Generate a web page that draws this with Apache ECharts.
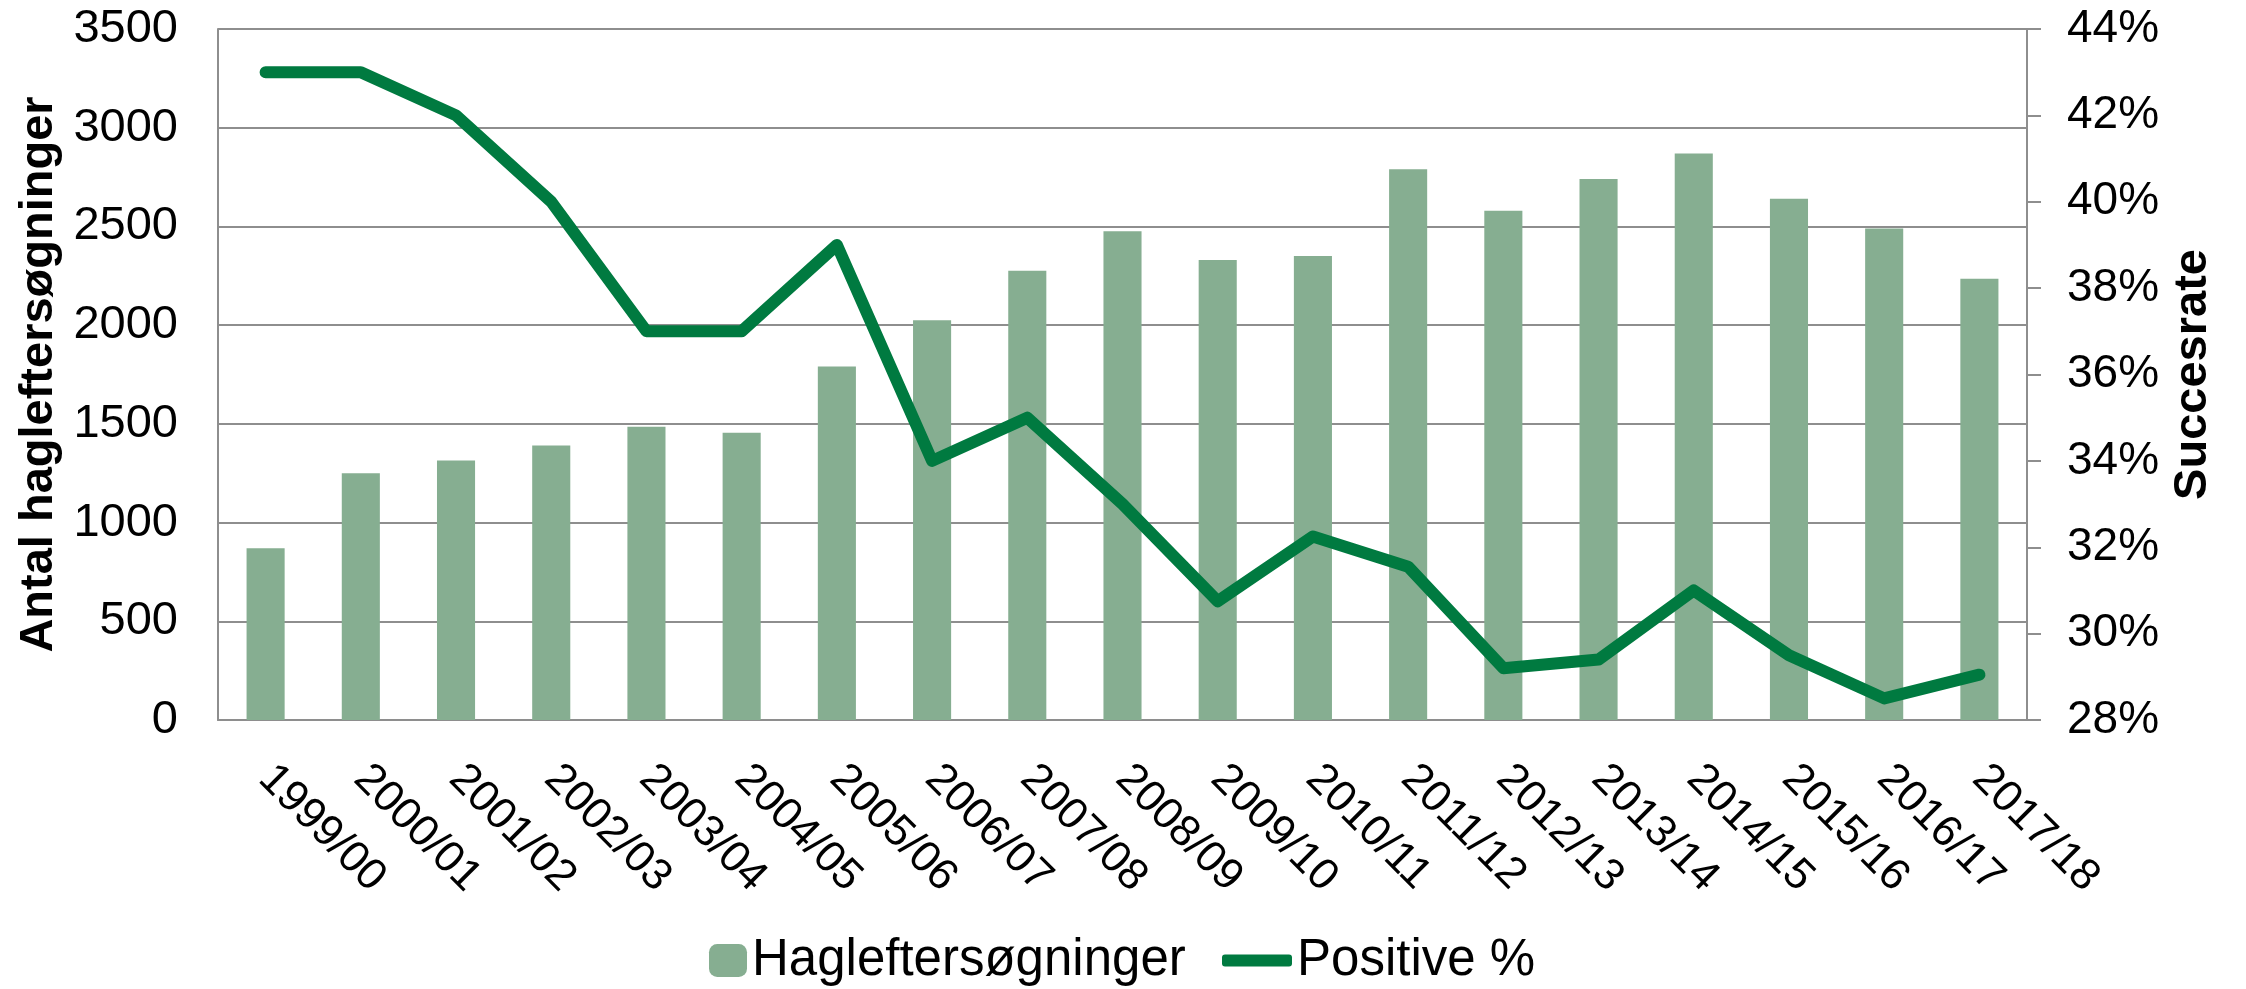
<!DOCTYPE html>
<html lang="da">
<head>
    <meta charset="UTF-8">
    <title>Hagleftersøgninger</title>
    <script src="https://cdn.jsdelivr.net/npm/echarts@6/dist/echarts.min.js"></script>
    <style>
        html, body { margin: 0; padding: 0; background: #fff; }
        #main { width: 2246px; height: 989px; }
    </style>
</head>
<body>
    <div id="main"></div>
<script type="text/javascript">
    // sæsoner
    var seasons = ['1999/00', '2000/01', '2001/02', '2002/03', '2003/04', '2004/05', '2005/06',
        '2006/07', '2007/08', '2008/09', '2009/10', '2010/11', '2011/12', '2012/13',
        '2013/14', '2014/15', '2015/16', '2016/17', '2017/18'];
    // antal hagleftersøgninger
    var searches = [870, 1250, 1315, 1390, 1485, 1455, 1790, 2025, 2275, 2475,
        2330, 2350, 2790, 2580, 2740, 2870, 2640, 2490, 2235];
    // positive i procent
    var positive = [43, 43, 42, 40, 37, 37, 39, 34, 35, 33,
        30.75, 32.25, 31.55, 29.2, 29.4, 31, 29.5, 28.5, 29.05];

    var barColor = '#86ae91';
    var lineColor = '#007a40';
    var gridColor = '#8e8e8e';
    var font = 'Liberation Sans, Arial, sans-serif';

    var myChart = echarts.init(document.getElementById('main'));

    var option = {
        backgroundColor: '#fff',
        textStyle: { fontFamily: font, color: '#000' },
        grid: { left: 218, right: 219, top: 29, bottom: 269, containLabel: false },
        legend: [
            {
                data: ['Hagleftersøgninger'],
                left: 709, top: 935, padding: 0,
                itemWidth: 38, itemHeight: 33,
                textStyle: { fontSize: 51, color: '#000', fontFamily: font }
            },
            {
                data: [{ name: 'Positive %', icon: 'roundRect' }],
                left: 1222, top: 935, padding: 0,
                itemWidth: 70, itemHeight: 12,
                textStyle: { fontSize: 51, color: '#000', fontFamily: font }
            }
        ],
        xAxis: {
            type: 'category',
            data: seasons,
            axisLine: { lineStyle: { color: gridColor, width: 2 } },
            axisTick: { show: false },
            axisLabel: { rotate: -45, fontSize: 44, margin: 52, color: '#000', interval: 0 }
        },
        yAxis: [
            {
                type: 'value',
                min: 0, max: 3500, interval: 500,
                name: 'Antal hagleftersøgninger',
                nameLocation: 'middle', nameRotate: 90, nameGap: 136,
                nameTextStyle: { fontSize: 47, fontWeight: 'bold', color: '#000' },
                axisLine: { show: true, lineStyle: { color: gridColor, width: 2 } },
                axisTick: { show: false },
                axisLabel: {
                    fontSize: 47, margin: 40, color: '#000',
                    formatter: function (v) { return String(v); }
                },
                splitLine: { lineStyle: { color: gridColor, width: 2 } }
            },
            {
                type: 'value',
                position: 'right',
                min: 28, max: 44, interval: 2,
                name: 'Succesrate',
                nameLocation: 'middle', nameRotate: 90, nameGap: 136,
                nameTextStyle: { fontSize: 47, fontWeight: 'bold', color: '#000' },
                axisLine: { show: true, lineStyle: { color: gridColor, width: 2 } },
                axisTick: { show: true, inside: false, length: 14, lineStyle: { color: gridColor, width: 2 } },
                axisLabel: {
                    fontSize: 46, margin: 40, color: '#000',
                    formatter: function (v) { return v + '%'; }
                },
                splitLine: { show: false }
            }
        ],
        series: [
            {
                name: 'Hagleftersøgninger',
                type: 'bar',
                yAxisIndex: 0,
                barWidth: '40%',
                itemStyle: { color: barColor },
                data: searches
            },
            {
                name: 'Positive %',
                type: 'line',
                yAxisIndex: 1,
                showSymbol: false,
                symbol: 'none',
                itemStyle: { color: lineColor },
                lineStyle: { color: lineColor, width: 12, cap: 'round', join: 'round' },
                data: positive
            }
        ]
    };

    myChart.setOption(option);
</script>
</body>
</html>
